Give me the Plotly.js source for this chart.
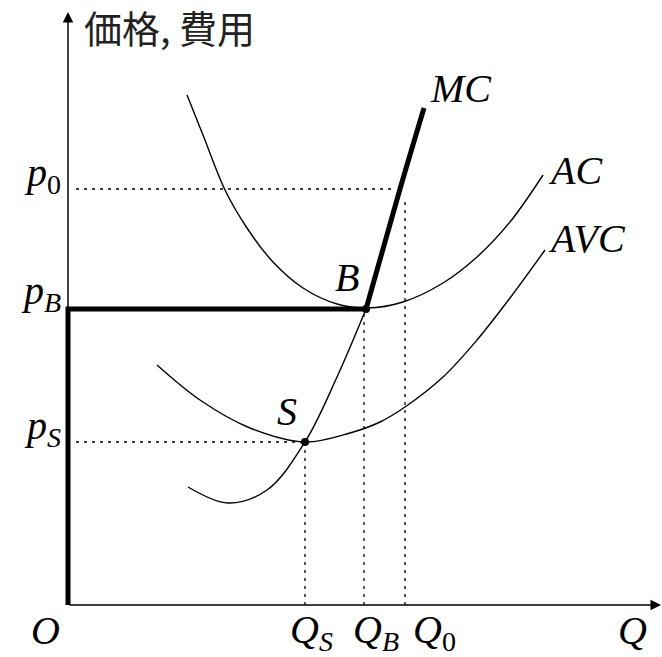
<!DOCTYPE html>
<html><head><meta charset="utf-8">
<script src="https://cdn.plot.ly/plotly-3.0.1.min.js"></script>
<style>body{margin:0;background:#fff}#chart{width:662px;height:657px}</style>
</head><body><div id="chart"></div>
<script>
// Values (abstract units, origin O at 0,0)
const mcLowQ  = [120, 160, 199, 237, 269, 298];
const mcLowP  = [118, 102, 115, 163, 228, 296];
const mcHighQ = [298, 332, 356];
const mcHighP = [296, 416, 497];
const acQ  = [119, 135, 157, 179, 205, 235, 269, 299, 335, 375, 409, 442, 475];
const acP  = [510, 470, 415, 377, 343, 317, 301, 297, 303, 322, 348, 383, 430];
const avcQ = [89, 132, 182, 237, 282, 312, 337, 375, 409, 442, 477];
const avcP = [240, 205, 177, 163, 172, 183, 198, 228, 265, 307, 355];
const pointB = [298, 296];
const pointS = [237, 163];
const prices = {p0: 416, pB: 296, pS: 163};
const quantities = {QS: 237, QB: 296, Q0: 337};
const axisMax = {x: 593, y: 593};

const black = '#000';
const dotted = {color: black, width: 1.3, dash: '3px,5px'};
const traces = [
  {x: [8, 324], y: [prices.p0, prices.p0], mode: 'lines', line: dotted},
  {x: [quantities.Q0, quantities.Q0], y: [0, 405], mode: 'lines', line: dotted},
  {x: [8, pointS[0]], y: [prices.pS, prices.pS], mode: 'lines', line: dotted},
  {x: [quantities.QS, quantities.QS], y: [0, pointS[1]], mode: 'lines', line: dotted},
  {x: [quantities.QB, quantities.QB], y: [0, pointB[1]], mode: 'lines', line: dotted},
  {x: acQ, y: acP, mode: 'lines', line: {color: black, width: 1.4, shape: 'spline', smoothing: 1}},
  {x: avcQ, y: avcP, mode: 'lines', line: {color: black, width: 1.4, shape: 'spline', smoothing: 1}},
  {x: mcLowQ, y: mcLowP, mode: 'lines', line: {color: black, width: 1.4, shape: 'spline', smoothing: 1}},
  {x: [0, 0, pointB[0]], y: [0, prices.pB, prices.pB], mode: 'lines', line: {color: black, width: 5}},
  {x: mcHighQ, y: mcHighP, mode: 'lines', line: {color: black, width: 5, shape: 'spline'}},
  {x: [pointB[0], pointS[0]], y: [pointB[1], pointS[1]], mode: 'markers', marker: {color: black, size: 8}}
];

const it = s => '<span style="font-family:Liberation Serif;font-style:italic">' + s + '</span>';
const up = s => '<span style="font-family:Liberation Serif;font-style:normal">' + s + '</span>';
function lab(text, x, y, xs, ys, xanchor) {
  return {text: text, x: x, y: y, xref: 'x', yref: 'y', xshift: xs || 0, yshift: ys || 0,
          showarrow: false, xanchor: xanchor || 'center', yanchor: 'middle',
          font: {family: 'Liberation Serif', size: 40, style: 'italic', color: black}};
}
const annotations = [
  {x: 0, y: axisMax.y, ax: 0, ay: 0, axref: 'x', ayref: 'y', xref: 'x', yref: 'y', text: '',
   showarrow: true, arrowhead: 2, arrowsize: 1.4, arrowwidth: 1.5, arrowcolor: black},
  {x: axisMax.x, y: 0, ax: 0, ay: 0, axref: 'x', ayref: 'y', xref: 'x', yref: 'y', text: '',
   showarrow: true, arrowhead: 2, arrowsize: 1.4, arrowwidth: 1.5, arrowcolor: black},
  {text: '価格, 費用', x: 0, y: axisMax.y, xref: 'x', yref: 'y', xshift: 14, yshift: -14,
   showarrow: false, xanchor: 'left', yanchor: 'middle',
   font: {family: 'Noto Sans CJK JP', size: 38, color: '#222'}},
  lab(it('p') + '<sub>' + up('0') + '</sub>', 0, prices.p0, -5, 14, 'right'),
  lab(it('p') + '<sub>' + it('B') + '</sub>', 0, prices.pB, -5, 16, 'right'),
  lab(it('p') + '<sub>' + it('S') + '</sub>', 0, prices.pS, -5, 14, 'right'),
  lab(it('O'), 0, 0, -23, -25),
  lab(it('Q') + '<sub>' + it('S') + '</sub>', quantities.QS, 0, 6, -27),
  lab(it('Q') + '<sub>' + it('B') + '</sub>', quantities.QB, 0, 12, -27),
  lab(it('Q') + '<sub>' + up('0') + '</sub>', quantities.Q0, 0, 29, -27),
  lab(it('Q'), axisMax.x, 0, -29, -25),
  lab(it('MC'), mcHighQ[2], mcHighP[2], 4, 20, 'left'),
  lab(it('AC'), acQ[acQ.length - 1], acP[acP.length - 1], 3, 5, 'left'),
  lab(it('AVC'), avcQ[avcQ.length - 1], avcP[avcP.length - 1], 1, 12, 'left'),
  lab(it('B'), pointB[0], pointB[1], -19, 32),
  lab(it('S'), pointS[0], pointS[1], -18, 31)
];

const layout = {
  width: 662, height: 657, margin: {l: 0, r: 0, t: 0, b: 0},
  paper_bgcolor: '#fff', plot_bgcolor: '#fff', showlegend: false,
  xaxis: {range: [-68, 594], visible: false, fixedrange: true},
  yaxis: {range: [-52, 605], visible: false, fixedrange: true},
  annotations: annotations
};
Plotly.newPlot('chart', traces, layout, {staticPlot: true, displayModeBar: false});
</script></body></html>
